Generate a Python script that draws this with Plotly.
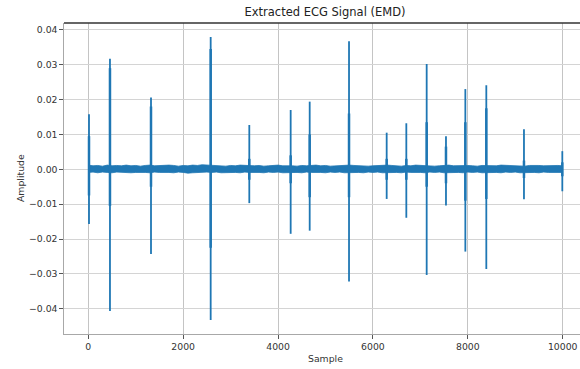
import plotly.graph_objects as go

# ---- data ----
spike_sample = [15, 457, 1322, 2580, 3394, 4266, 4667, 5496, 6290, 6704,
                7133, 7540, 7948, 8390, 9184, 9992]
spike_peak = [0.0158, 0.0317, 0.0206, 0.0379, 0.0127, 0.0170, 0.0194, 0.0367,
              0.0105, 0.0132, 0.0302, 0.0095, 0.0230, 0.0241, 0.0115, 0.0052]
spike_trough = [-0.0157, -0.0406, -0.0243, -0.0432, -0.0097, -0.0185, -0.0176,
                -0.0322, -0.0085, -0.0139, -0.0303, -0.0104, -0.0236, -0.0286,
                -0.0086, -0.0063]
shoulder_hi = [0.0095, 0.0290, 0.0180, 0.0345, 0.0030, 0.0040, 0.0100, 0.0160,
               0.0030, 0.0030, 0.0135, 0.0065, 0.0135, 0.0175, 0.0025, 0.0020]
shoulder_lo = [-0.0075, -0.0105, -0.0050, -0.0225, -0.0030, -0.0040, -0.0080,
               -0.0080, -0.0030, -0.0030, -0.0050, -0.0040, -0.0090, -0.0085,
               -0.0025, -0.0020]

# baseline noise envelope, every 100 samples
band_sample = list(range(0, 10001, 100))
band_hi = [0.0012, 0.0010, 0.0011, 0.0009, 0.0012, 0.0010, 0.0011, 0.0010, 0.0012, 0.0010,
           0.0011, 0.0009, 0.0011, 0.0012, 0.0010, 0.0011, 0.0010, 0.0012, 0.0011, 0.0009,
           0.0011, 0.0010, 0.0012, 0.0011, 0.0013, 0.0012, 0.0010, 0.0011, 0.0010, 0.0009,
           0.0011, 0.0010, 0.0012, 0.0011, 0.0009, 0.0010, 0.0011, 0.0009, 0.0010, 0.0011,
           0.0012, 0.0010, 0.0011, 0.0010, 0.0009, 0.0011, 0.0010, 0.0011, 0.0012, 0.0010,
           0.0011, 0.0009, 0.0010, 0.0011, 0.0010, 0.0012, 0.0011, 0.0010, 0.0011, 0.0009,
           0.0010, 0.0011, 0.0010, 0.0012, 0.0011, 0.0010, 0.0009, 0.0011, 0.0010, 0.0012,
           0.0011, 0.0010, 0.0011, 0.0009, 0.0010, 0.0011, 0.0012, 0.0010, 0.0011, 0.0010,
           0.0011, 0.0010, 0.0009, 0.0011, 0.0010, 0.0011, 0.0010, 0.0012, 0.0011, 0.0010,
           0.0011, 0.0010, 0.0009, 0.0011, 0.0012, 0.0011, 0.0010, 0.0011, 0.0010, 0.0011,
           0.0010]
band_lo = [-0.0009, -0.0008, -0.0010, -0.0008, -0.0009, -0.0010, -0.0008, -0.0009, -0.0008, -0.0010,
           -0.0009, -0.0008, -0.0009, -0.0010, -0.0008, -0.0009, -0.0008, -0.0009, -0.0010, -0.0008,
           -0.0009, -0.0011, -0.0010, -0.0009, -0.0010, -0.0008, -0.0009, -0.0008, -0.0010, -0.0009,
           -0.0008, -0.0009, -0.0010, -0.0008, -0.0009, -0.0008, -0.0009, -0.0010, -0.0008, -0.0009,
           -0.0008, -0.0010, -0.0009, -0.0008, -0.0009, -0.0010, -0.0008, -0.0009, -0.0008, -0.0009,
           -0.0010, -0.0008, -0.0009, -0.0008, -0.0010, -0.0009, -0.0008, -0.0009, -0.0010, -0.0008,
           -0.0009, -0.0008, -0.0010, -0.0009, -0.0008, -0.0009, -0.0010, -0.0008, -0.0009, -0.0008,
           -0.0009, -0.0010, -0.0008, -0.0009, -0.0008, -0.0010, -0.0009, -0.0008, -0.0009, -0.0010,
           -0.0008, -0.0009, -0.0008, -0.0010, -0.0009, -0.0008, -0.0009, -0.0010, -0.0008, -0.0009,
           -0.0008, -0.0010, -0.0009, -0.0008, -0.0009, -0.0010, -0.0008, -0.0009, -0.0008, -0.0009,
           -0.0009]

x_ticks = [0, 2000, 4000, 6000, 8000, 10000]
y_ticks = [-0.04, -0.03, -0.02, -0.01, 0.0, 0.01, 0.02, 0.03, 0.04]

BLUE = "#1f77b4"

# ---- build traces ----
fig = go.Figure()

fig.add_trace(go.Scatter(x=band_sample, y=band_lo, mode="lines",
                         line=dict(color=BLUE, width=0.8), hoverinfo="skip",
                         showlegend=False))
fig.add_trace(go.Scatter(x=band_sample, y=band_hi, mode="lines", fill="tonexty",
                         fillcolor=BLUE, line=dict(color=BLUE, width=0.8),
                         hoverinfo="skip", showlegend=False))

sx, sy = [], []
for s, hi, lo in zip(spike_sample, spike_peak, spike_trough):
    sx += [s, s, None]
    sy += [lo, hi, None]
fig.add_trace(go.Scatter(x=sx, y=sy, mode="lines", line=dict(color=BLUE, width=1.8),
                         showlegend=False))

hx, hy = [], []
for s, hi, lo in zip(spike_sample, shoulder_hi, shoulder_lo):
    hx += [s, s, None]
    hy += [lo, hi, None]
fig.add_trace(go.Scatter(x=hx, y=hy, mode="lines", line=dict(color=BLUE, width=2.5),
                         showlegend=False))

FONT = "DejaVu Sans"
W, H = 580, 369
L, T, B = 64, 23, 35

fig.update_layout(
    width=W, height=H,
    margin=dict(l=L, r=0, t=T, b=B, pad=0, autoexpand=False),
    paper_bgcolor="white", plot_bgcolor="white",
    font=dict(family=FONT, size=9.3, color="#333333"),
    title=dict(text="Extracted ECG Signal (EMD)", xref="container", yref="container",
               x=325 / W, y=1 - 12 / H, xanchor="center", yanchor="middle",
               automargin=False,
               font=dict(family=FONT, size=11.5, color="#222222")),
    xaxis=dict(range=[-512, 10365], tickvals=x_ticks, ticktext=[str(v) for v in x_ticks],
               automargin=False,
               showgrid=True, gridcolor="#c4c4c4", gridwidth=1, zeroline=False,
               showline=True, linecolor="#a8a8a8", linewidth=1.3,
               ticks="outside", ticklen=3.5, tickcolor="#555555", tickwidth=1),
    yaxis=dict(range=[-0.04723, 0.04195], tickvals=y_ticks, tickformat=".2f",
               automargin=False,
               showgrid=True, gridcolor="#d4d4d4", gridwidth=1, zeroline=False,
               showline=True, linecolor="#a8a8a8", linewidth=1.3,
               ticks="outside", ticklen=3.5, tickcolor="#555555", tickwidth=1),
    shapes=[dict(type="line", xref="paper", yref="paper", x0=0, x1=1, y0=1, y1=1,
                 line=dict(color="#333333", width=1.3))],
    annotations=[
        dict(text="Sample", xref="paper", yref="paper", x=(325 - L) / (W - L),
             y=(334 - 358) / 311, xanchor="center", yanchor="middle", showarrow=False,
             font=dict(family=FONT, size=9.3, color="#333333")),
        dict(text="Amplitude", xref="paper", yref="paper", x=(20 - L) / (W - L),
             y=(334 - 178) / 311, xanchor="center", yanchor="middle", textangle=-90,
             showarrow=False, font=dict(family=FONT, size=9.3, color="#333333")),
    ],
)

fig.write_html("out.html", config={"displayModeBar": False},
               post_script="document.body.style.margin='0px';document.body.style.overflow='hidden';")
